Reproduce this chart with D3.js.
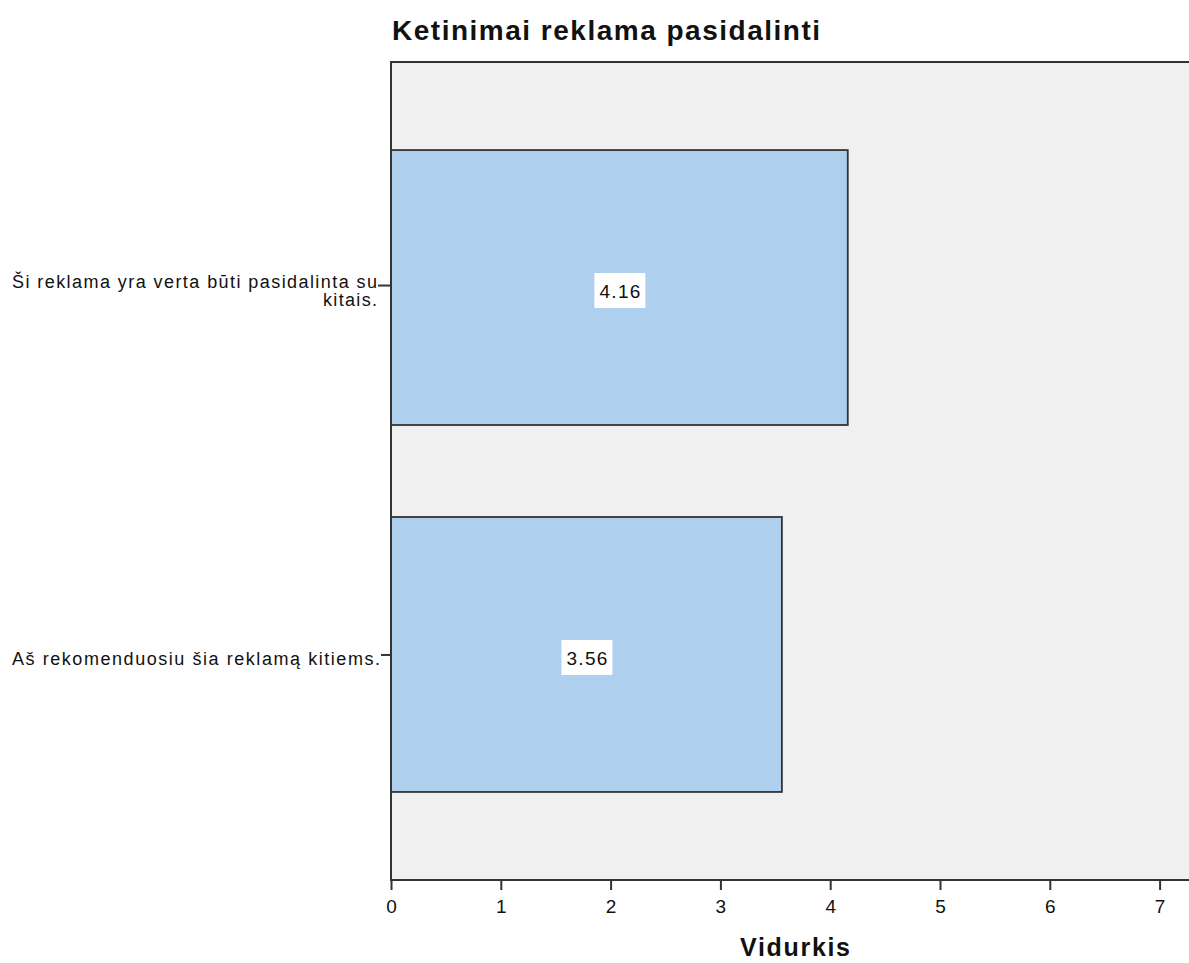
<!DOCTYPE html>
<html>
<head>
<meta charset="utf-8">
<script src="https://cdn.jsdelivr.net/npm/d3@7"></script>
<style>
  html, body { margin: 0; padding: 0; background: #fff; }
  svg { display: block; font-family: "Liberation Sans", Arial, sans-serif; }
</style>
</head>
<body>
<svg id="chart" width="1189" height="963"></svg>
<script>
// Chart data
const categories = [
  "Ši reklama yra verta būti pasidalinta su kitais.",
  "Aš rekomenduosiu šia reklamą kitiems."
];
const categoryLines = [
  ["Ši reklama yra verta būti pasidalinta su", "kitais."],
  ["Aš rekomenduosiu šia reklamą kitiems."]
];
const means = [4.16, 3.56];
const xTicks = [0, 1, 2, 3, 4, 5, 6, 7];
const chartTitle = "Ketinimai reklama pasidalinti";
const xTitle = "Vidurkis";

(function () {
  const svg = d3.select("#chart");
  const plotLeft = 391, plotTop = 62, plotBottom = 880, plotRight7 = 1159.6;
  const ink = "#111";

  // Widen a text to the given length by spacing out its glyphs
  function spread(sel, len) {
    sel.attr("textLength", len).attr("lengthAdjust", "spacing");
  }

  const x = d3.scaleLinear().domain([0, 7]).range([plotLeft, plotRight7]);
  const y = d3.scaleBand().domain(categories).range([plotTop, plotBottom])
    .paddingInner(0.2507).paddingOuter(0.24);

  // Plot background (extends past the right edge)
  svg.append("rect")
    .attr("x", plotLeft).attr("y", plotTop)
    .attr("width", 1300 - plotLeft).attr("height", plotBottom - plotTop)
    .attr("fill", "#f0f0f0");

  // Bars
  svg.selectAll("rect.bar").data(categories).join("rect")
    .attr("class", "bar")
    .attr("x", x(0))
    .attr("y", d => y(d))
    .attr("width", (d, i) => x(means[i]) - x(0))
    .attr("height", y.bandwidth())
    .attr("fill", "#aecfed")
    .attr("stroke", "#333")
    .attr("stroke-width", 1.8);

  // Frame lines: top, left, bottom
  svg.append("path")
    .attr("d", `M1300,${plotTop}H${plotLeft}V${plotBottom}H1300`)
    .attr("fill", "none").attr("stroke", "#333").attr("stroke-width", 2);

  // X axis
  const xAxis = d3.axisBottom(x).tickValues(xTicks).tickSize(10).tickSizeOuter(0).tickPadding(3)
    .tickFormat(d3.format("d"));
  const gx = svg.append("g").attr("transform", `translate(0,${plotBottom})`).call(xAxis);
  gx.select(".domain").remove();
  gx.selectAll(".tick line").attr("stroke", "#333").attr("stroke-width", 2);
  gx.selectAll(".tick text").attr("fill", ink)
    .attr("font-family", "'Liberation Sans', Arial, sans-serif").attr("font-size", 19)
    .attr("dy", null).attr("y", 33);

  // Y axis ticks and labels
  const gy = svg.append("g");
  const labelWidths = [[365, 54], [368]];
  const labelRight = [377, 380];
  categories.forEach((c, i) => {
    const cy = y(c) + y.bandwidth() / 2 + (i === 0 ? -2 : 0.5);
    gy.append("line")
      .attr("x1", labelRight[i] + 1).attr("x2", plotLeft)
      .attr("y1", cy).attr("y2", cy)
      .attr("stroke", "#333").attr("stroke-width", 2);
    const lines = categoryLines[i];
    lines.forEach((ln, k) => {
      const t = gy.append("text")
        .attr("text-anchor", "end")
        .attr("x", labelRight[i])
        .attr("y", lines.length > 1 ? cy + 2 + k * 18 : cy + 10)
        .attr("font-size", 18)
        .attr("fill", ink)
        .text(ln);
      spread(t, labelWidths[i][k]);
    });
  });

  // Value labels in white boxes
  categories.forEach((c, i) => {
    const cx = (x(0) + x(means[i])) / 2 + 0.5;
    const cy = y(c) + y.bandwidth() / 2 + 3;
    const g = svg.append("g");
    g.append("rect")
      .attr("x", cx - 25.5).attr("y", cy - 17.5)
      .attr("width", 51).attr("height", 35)
      .attr("fill", "#fff");
    const txt = g.append("text")
      .attr("x", cx).attr("y", cy + 7.5)
      .attr("text-anchor", "middle")
      .attr("font-size", 19)
      .attr("fill", ink)
      .text(means[i].toFixed(2));
    spread(txt, 41);
  });

  // Title
  const title = svg.append("text")
    .attr("x", 392).attr("y", 40)
    .attr("font-size", 28).attr("font-weight", "bold").attr("fill", ink)
    .text(chartTitle);
  spread(title, 428);

  // X axis title
  const xt = svg.append("text")
    .attr("x", 795).attr("y", 956)
    .attr("text-anchor", "middle")
    .attr("font-size", 25).attr("font-weight", "bold").attr("fill", ink)
    .text(xTitle);
  spread(xt, 110);
})();
</script>
</body>
</html>
